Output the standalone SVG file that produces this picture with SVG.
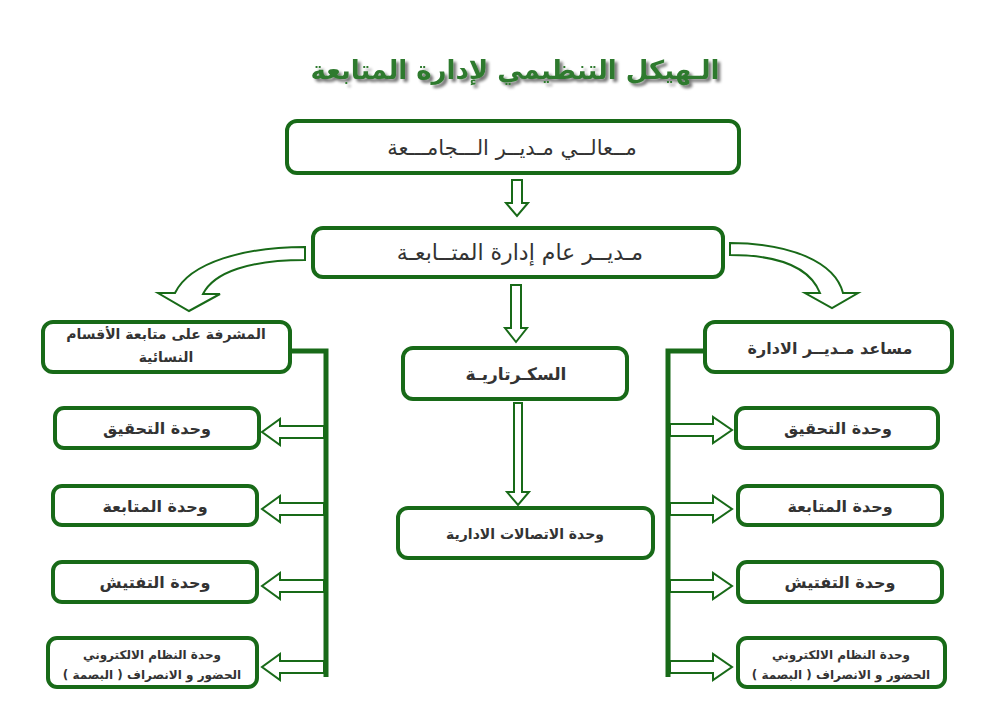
<svg xmlns="http://www.w3.org/2000/svg" width="1000" height="722" viewBox="0 0 1000 722">
  <defs>
    <style>
      .box { fill: #ffffff; stroke: #186a18; stroke-width: 4; }
      .arrow { fill: #ffffff; stroke: #186a18; stroke-width: 2; stroke-linejoin: miter; }
      .bar { fill: none; stroke: #186a18; stroke-width: 5; }
      .t { font-family: "DejaVu Sans", "Noto Sans", sans-serif; fill: #333333; text-anchor: middle; direction: rtl; }
      .big { font-size: 21px; }
      .bold { font-weight: bold; font-size: 16px; }
      .unit { font-weight: bold; font-size: 16px; }
      .small { font-weight: bold; font-size: 12px; }
      .title { font-family: "DejaVu Sans", "Noto Sans", sans-serif; font-weight: bold; font-size: 26px; text-anchor: middle; direction: rtl; }
    </style>
    <filter id="shadow" x="-10%" y="-30%" width="120%" height="160%">
      <feGaussianBlur in="SourceAlpha" stdDeviation="1.5"/>
      <feOffset dx="3" dy="3" result="b"/>
      <feComponentTransfer><feFuncA type="linear" slope="0.55"/></feComponentTransfer>
      <feMerge><feMergeNode/><feMergeNode in="SourceGraphic"/></feMerge>
    </filter>
  </defs>
  <rect width="1000" height="722" fill="#ffffff"/>

  <g id="title">
    <text class="title" x="515" y="79" fill="#2f7a2f" filter="url(#shadow)">الـهيكل التنظيمي لإدارة المتابعة</text>
  </g>

  <g id="connectors">
    <polygon class="arrow" points="512,180 522,180 522,203 528,203 517,216 506,203 512,203"/>
    <polygon class="arrow" points="511,285 521,285 521,328 527,328 516,342 505,328 511,328"/>
    <polygon class="arrow" points="514,403 522,403 522,492 529,492 518,505 507,492 514,492"/>
    <path class="arrow" d="M305,247 C245,247 190,262 175,293 L158,293 L189,311 L220,294 L203,294 C214,272 250,260 305,260 Z"/>
    <path class="arrow" d="M730,243 C790,243 835,262 843,293 L858,293 L832,308 L805,293 L820,293 C810,268 780,255 730,255 Z"/>
    <polyline class="bar" points="290,351 326,351 326,677"/>
    <polyline class="bar" points="705,351 668,351 668,677"/>
    <polygon class="arrow" points="324,426 280,426 280,419 262,432 280,445 280,438 324,438"/>
    <polygon class="arrow" points="324,503 280,503 280,496 262,509 280,522 280,515 324,515"/>
    <polygon class="arrow" points="324,580 280,580 280,573 262,586 280,599 280,592 324,592"/>
    <polygon class="arrow" points="324,661 280,661 280,654 262,667 280,680 280,673 324,673"/>
    <polygon class="arrow" points="670,424 713,424 713,417 732,430 713,443 713,436 670,436"/>
    <polygon class="arrow" points="670,503 713,503 713,496 732,509 713,522 713,515 670,515"/>
    <polygon class="arrow" points="670,580 713,580 713,573 732,586 713,599 713,592 670,592"/>
    <polygon class="arrow" points="670,661 713,661 713,654 732,667 713,680 713,673 670,673"/>
  </g>

  <g id="n-president">
    <rect class="box" x="287" y="121" width="452" height="52" rx="10"/>
    <text class="t big" x="512" y="155">مــعالــي مـديــر الـــجامـــعة</text>
  </g>
  <g id="n-director">
    <rect class="box" x="313" y="228" width="410" height="49" rx="10"/>
    <text class="t big" x="520" y="260" style="font-size:22px">مـديــر عام إدارة المتــابعـة</text>
  </g>
  <g id="n-female">
    <rect class="box" x="43" y="322" width="247" height="50" rx="10"/>
    <text class="t bold" x="166" y="339" style="font-size:14px">المشرفة على متابعة الأقسام</text>
    <text class="t bold" x="166" y="362" style="font-size:14px">النسائية</text>
  </g>
  <g id="n-assistant">
    <rect class="box" x="705" y="322" width="247" height="50" rx="10"/>
    <text class="t bold" x="830" y="354">مساعد مـديــر الادارة</text>
  </g>
  <g id="n-secretary">
    <rect class="box" x="403" y="348" width="224" height="51" rx="10"/>
    <text class="t bold" x="516" y="380" style="font-size:17px">السكـرتاريـة</text>
  </g>
  <g id="n-comms">
    <rect class="box" x="398" y="508" width="255" height="50" rx="10"/>
    <text class="t bold" x="525" y="539" style="font-size:14px">وحدة الاتصالات الادارية</text>
  </g>

  <g id="n-l-investigation">
    <rect class="box" x="55" y="408" width="204" height="40" rx="9"/>
    <text class="t unit" x="157" y="434">وحدة التحقيق</text>
  </g>
  <g id="n-l-followup">
    <rect class="box" x="53" y="486" width="204" height="39" rx="9"/>
    <text class="t unit" x="155" y="512">وحدة المتابعة</text>
  </g>
  <g id="n-l-inspection">
    <rect class="box" x="53" y="562" width="204" height="40" rx="9"/>
    <text class="t unit" x="155" y="588">وحدة التفتيش</text>
  </g>
  <g id="n-l-electronic">
    <rect class="box" x="48" y="638" width="209" height="49" rx="9"/>
    <text class="t small" x="152" y="659">وحدة  النظام الالكتروني</text>
    <text class="t small" x="152" y="679">الحضور و الانصراف  ( البصمة )</text>
  </g>

  <g id="n-r-investigation">
    <rect class="box" x="736" y="408" width="202" height="40" rx="9"/>
    <text class="t unit" x="838" y="434">وحدة التحقيق</text>
  </g>
  <g id="n-r-followup">
    <rect class="box" x="738" y="486" width="204" height="39" rx="9"/>
    <text class="t unit" x="840" y="512">وحدة المتابعة</text>
  </g>
  <g id="n-r-inspection">
    <rect class="box" x="738" y="562" width="204" height="40" rx="9"/>
    <text class="t unit" x="840" y="588">وحدة التفتيش</text>
  </g>
  <g id="n-r-electronic">
    <rect class="box" x="738" y="638" width="207" height="49" rx="9"/>
    <text class="t small" x="841" y="659">وحدة  النظام الالكتروني</text>
    <text class="t small" x="841" y="679">الحضور و الانصراف  ( البصمة )</text>
  </g>
</svg>
